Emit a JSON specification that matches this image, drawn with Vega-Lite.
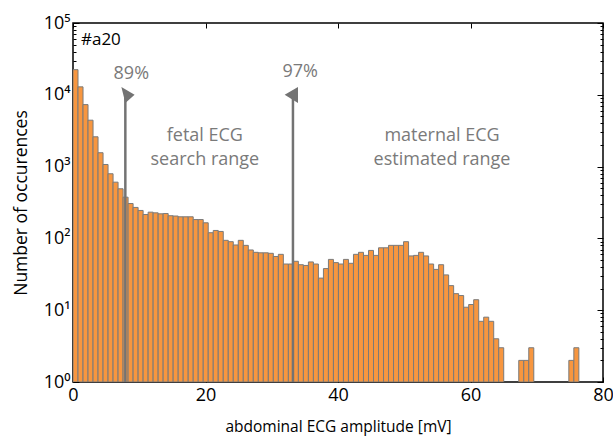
{
  "$schema": "https://vega.github.io/schema/vega-lite/v6.json",
  "width": 530,
  "height": 359,
  "autosize": {"type": "none"},
  "padding": {"left": 73, "top": 23, "right": 10, "bottom": 54},
  "background": "white",
  "config": {
    "font": "Open Sans",
    "view": {"stroke": "#000000", "strokeWidth": 1.5},
    "axis": {"grid": false, "domain": false, "tickColor": "#000000", "tickWidth": 1, "labelColor": "#000000", "titleColor": "#000000", "labelFont": "Open Sans", "titleFont": "Open Sans", "titleFontWeight": "normal", "labelFontSize": 18, "titleFontSize": 17}
  },
  "datasets": {
    "hist": [
      {"lo": 0, "hi": 0.756, "count": 22400},
      {"lo": 0.756, "hi": 1.512, "count": 12900},
      {"lo": 1.512, "hi": 2.268, "count": 7300},
      {"lo": 2.268, "hi": 3.024, "count": 4430},
      {"lo": 3.024, "hi": 3.78, "count": 2600},
      {"lo": 3.78, "hi": 4.536, "count": 1560},
      {"lo": 4.536, "hi": 5.292, "count": 1070},
      {"lo": 5.292, "hi": 6.048, "count": 795},
      {"lo": 6.048, "hi": 6.804, "count": 607},
      {"lo": 6.804, "hi": 7.56, "count": 491},
      {"lo": 7.56, "hi": 8.316, "count": 375},
      {"lo": 8.316, "hi": 9.072, "count": 306},
      {"lo": 9.072, "hi": 9.828, "count": 270},
      {"lo": 9.828, "hi": 10.584, "count": 245},
      {"lo": 10.584, "hi": 11.34, "count": 215},
      {"lo": 11.34, "hi": 12.096, "count": 232},
      {"lo": 12.096, "hi": 12.852, "count": 227},
      {"lo": 12.852, "hi": 13.608, "count": 220},
      {"lo": 13.608, "hi": 14.364, "count": 222},
      {"lo": 14.364, "hi": 15.12, "count": 207},
      {"lo": 15.12, "hi": 15.876, "count": 205},
      {"lo": 15.876, "hi": 16.632, "count": 200},
      {"lo": 16.632, "hi": 17.388, "count": 200},
      {"lo": 17.388, "hi": 18.144, "count": 200},
      {"lo": 18.144, "hi": 18.9, "count": 183},
      {"lo": 18.9, "hi": 19.656, "count": 183},
      {"lo": 19.656, "hi": 20.412, "count": 165},
      {"lo": 20.412, "hi": 21.168, "count": 120},
      {"lo": 21.168, "hi": 21.924, "count": 129},
      {"lo": 21.924, "hi": 22.68, "count": 125},
      {"lo": 22.68, "hi": 23.436, "count": 94},
      {"lo": 23.436, "hi": 24.192, "count": 90},
      {"lo": 24.192, "hi": 24.948, "count": 81},
      {"lo": 24.948, "hi": 25.704, "count": 94},
      {"lo": 25.704, "hi": 26.46, "count": 80},
      {"lo": 26.46, "hi": 27.216, "count": 69},
      {"lo": 27.216, "hi": 27.972, "count": 64},
      {"lo": 27.972, "hi": 28.728, "count": 63},
      {"lo": 28.728, "hi": 29.484, "count": 63},
      {"lo": 29.484, "hi": 30.24, "count": 62},
      {"lo": 30.24, "hi": 30.996, "count": 56},
      {"lo": 30.996, "hi": 31.752, "count": 60},
      {"lo": 31.752, "hi": 32.508, "count": 44},
      {"lo": 32.508, "hi": 33.264, "count": 44},
      {"lo": 33.264, "hi": 34.02, "count": 48},
      {"lo": 34.02, "hi": 34.776, "count": 43},
      {"lo": 34.776, "hi": 35.532, "count": 42},
      {"lo": 35.532, "hi": 36.288, "count": 47},
      {"lo": 36.288, "hi": 37.044, "count": 44},
      {"lo": 37.044, "hi": 37.8, "count": 28},
      {"lo": 37.8, "hi": 38.556, "count": 38},
      {"lo": 38.556, "hi": 39.312, "count": 51},
      {"lo": 39.312, "hi": 40.068, "count": 46},
      {"lo": 40.068, "hi": 40.824, "count": 44},
      {"lo": 40.824, "hi": 41.58, "count": 51},
      {"lo": 41.58, "hi": 42.336, "count": 45},
      {"lo": 42.336, "hi": 43.092, "count": 60},
      {"lo": 43.092, "hi": 43.848, "count": 64},
      {"lo": 43.848, "hi": 44.604, "count": 58},
      {"lo": 44.604, "hi": 45.36, "count": 68},
      {"lo": 45.36, "hi": 46.116, "count": 58},
      {"lo": 46.116, "hi": 46.872, "count": 74},
      {"lo": 46.872, "hi": 47.628, "count": 74},
      {"lo": 47.628, "hi": 48.384, "count": 80},
      {"lo": 48.384, "hi": 49.14, "count": 80},
      {"lo": 49.14, "hi": 49.896, "count": 80},
      {"lo": 49.896, "hi": 50.652, "count": 90},
      {"lo": 50.652, "hi": 51.408, "count": 57},
      {"lo": 51.408, "hi": 52.164, "count": 58},
      {"lo": 52.164, "hi": 52.92, "count": 64},
      {"lo": 52.92, "hi": 53.676, "count": 57},
      {"lo": 53.676, "hi": 54.432, "count": 44},
      {"lo": 54.432, "hi": 55.188, "count": 37},
      {"lo": 55.188, "hi": 55.944, "count": 43},
      {"lo": 55.944, "hi": 56.7, "count": 31},
      {"lo": 56.7, "hi": 57.456, "count": 22},
      {"lo": 57.456, "hi": 58.212, "count": 17},
      {"lo": 58.212, "hi": 58.968, "count": 16},
      {"lo": 58.968, "hi": 59.724, "count": 11},
      {"lo": 59.724, "hi": 60.48, "count": 12},
      {"lo": 60.48, "hi": 61.236, "count": 14},
      {"lo": 61.236, "hi": 61.992, "count": 7},
      {"lo": 61.992, "hi": 62.748, "count": 8},
      {"lo": 62.748, "hi": 63.504, "count": 7},
      {"lo": 63.504, "hi": 64.26, "count": 4},
      {"lo": 64.26, "hi": 65.016, "count": 3},
      {"lo": 67.284, "hi": 68.04, "count": 2},
      {"lo": 68.04, "hi": 68.796, "count": 2},
      {"lo": 68.796, "hi": 69.552, "count": 3},
      {"lo": 74.844, "hi": 75.6, "count": 2},
      {"lo": 75.6, "hi": 76.356, "count": 3}
    ],
    "arrows": [
      {"pos": 7.9, "base": 1, "tip": 9000, "head": 10000, "label": "89%"},
      {"pos": 33.2, "base": 1, "tip": 9000, "head": 10000, "label": "97%"}
    ],
    "notes": [
      {"x": 8.8, "y": 16750, "text": "89%"},
      {"x": 34.3, "y": 17760, "text": "97%"},
      {"x": 19.9, "y": 2307, "text": "fetal ECG"},
      {"x": 19.9, "y": 1036, "text": "search range"},
      {"x": 55.7, "y": 2307, "text": "maternal ECG"},
      {"x": 55.7, "y": 1036, "text": "estimated range"}
    ],
    "tag": [
      {"x": 1.2, "y": 50000, "text": "#a20"}
    ]
  },
  "layer": [
    {
      "data": {"name": "hist"},
      "mark": {"type": "bar", "fill": "#F7963F", "stroke": "#7a7a7a", "strokeWidth": 1, "clip": true},
      "encoding": {
        "x": {"field": "lo", "type": "quantitative", "scale": {"domain": [0, 80], "nice": false, "zero": false},
              "axis": {"orient": "bottom", "values": [0, 20, 40, 60, 80], "offset": -5, "tickSize": 5, "labelPadding": 4, "labelFlush": false, "title": "abdominal ECG amplitude [mV]", "titleFontSize": 15.5, "titlePadding": 15}},
        "x2": {"field": "hi"},
        "y": {"field": "count", "type": "quantitative", "scale": {"type": "log", "domain": [1, 100000], "nice": false},
              "axis": {"orient": "left", "values": [1, 10, 100, 1000, 10000, 100000], "offset": -6, "tickSize": 6, "labelPadding": 3,
                       "labelExpr": "'10' + ['⁰','¹','²','³','⁴','⁵'][round(log(datum.value)/LN10)]",
                       "title": "Number of occurences", "titleFontSize": 17.5, "titlePadding": 13}},
        "y2": {"datum": 1}
      }
    },
    {
      "data": {"name": "arrows"},
      "mark": {"type": "rule", "color": "#737373", "strokeWidth": 2.5},
      "encoding": {
        "x": {"field": "pos", "type": "quantitative", "scale": {"domain": [0, 80], "nice": false, "zero": false},
              "axis": {"orient": "top", "values": [0, 20, 40, 60, 80], "offset": -5, "tickSize": 5, "labels": false, "title": null}},
        "y": {"field": "base", "type": "quantitative", "scale": {"type": "log", "domain": [1, 100000], "nice": false},
              "axis": {"orient": "right", "values": [1, 10, 100, 1000, 10000, 100000], "offset": -6, "tickSize": 6, "labels": false, "title": null}},
        "y2": {"field": "tip"}
      }
    },
    {
      "data": {"name": "arrows"},
      "mark": {"type": "point", "filled": true, "size": 324, "color": "#737373", "opacity": 1, "strokeWidth": 0},
      "encoding": {
        "x": {"field": "pos", "type": "quantitative", "scale": {"domain": [0, 80], "nice": false, "zero": false}, "axis": null},
        "y": {"field": "head", "type": "quantitative", "scale": {"type": "log", "domain": [1, 100000], "nice": false},
              "axis": {"orient": "left", "values": [2,3,4,5,6,7,8,9,20,30,40,50,60,70,80,90,200,300,400,500,600,700,800,900,2000,3000,4000,5000,6000,7000,8000,9000,20000,30000,40000,50000,60000,70000,80000,90000], "offset": -3, "tickSize": 3, "labels": false, "title": null}},
        "shape": {"field": "label", "type": "nominal", "scale": {"domain": ["89%", "97%"], "range": ["M-0.44,-0.86L1.03,0L0,0.92Z", "M-0.92,0L0.56,-0.86L0.56,0.92Z"]}, "legend": null}
      }
    },
    {
      "data": {"name": "notes"},
      "mark": {"type": "text", "color": "#7a7a7a", "fontSize": 18, "align": "center", "baseline": "alphabetic"},
      "encoding": {
        "x": {"field": "x", "type": "quantitative", "scale": {"domain": [0, 80], "nice": false, "zero": false}, "axis": null},
        "y": {"field": "y", "type": "quantitative", "scale": {"type": "log", "domain": [1, 100000], "nice": false},
              "axis": {"orient": "right", "values": [2,3,4,5,6,7,8,9,20,30,40,50,60,70,80,90,200,300,400,500,600,700,800,900,2000,3000,4000,5000,6000,7000,8000,9000,20000,30000,40000,50000,60000,70000,80000,90000], "offset": -3, "tickSize": 3, "labels": false, "title": null}},
        "text": {"field": "text"}
      }
    },
    {
      "data": {"name": "tag"},
      "mark": {"type": "text", "color": "#000000", "fontSize": 17, "align": "left", "baseline": "alphabetic"},
      "encoding": {
        "x": {"field": "x", "type": "quantitative", "scale": {"domain": [0, 80], "nice": false, "zero": false}, "axis": null},
        "y": {"field": "y", "type": "quantitative", "scale": {"type": "log", "domain": [1, 100000], "nice": false}, "axis": null},
        "text": {"field": "text"}
      }
    }
  ],
  "resolve": {"axis": {"x": "independent", "y": "independent"}}
}
